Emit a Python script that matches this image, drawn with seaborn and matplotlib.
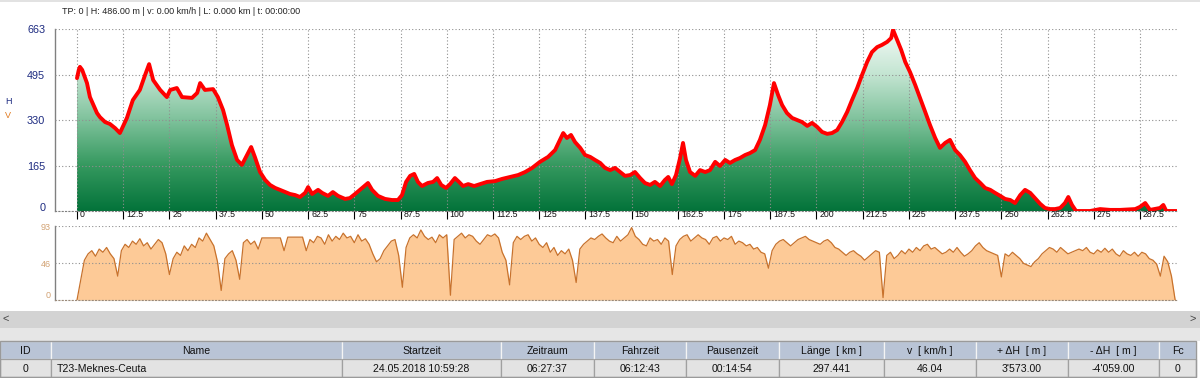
import numpy as np
import pandas as pd
import matplotlib
matplotlib.use("Agg")
import matplotlib.pyplot as plt
import seaborn as sns
from matplotlib.colors import LinearSegmentedColormap
from matplotlib.patches import Rectangle
from matplotlib.transforms import ScaledTranslation

sns.set_theme(style="white")
plt.rcParams['font.family'] = ['Liberation Sans', 'DejaVu Sans']

# ---------------- data ----------------
header_text = "TP: 0 | H: 486.00 m | v: 0.00 km/h | L: 0.000 km | t: 00:00:00"

elev_km = [0, 0.5, 0.8, 1.4, 2.7, 3.5, 5.4, 6.2, 7.6, 8.9, 10.3, 11.6, 13.5, 15.1, 17.0, 18.4,
           19.5, 20.6, 22.5, 24.3, 25.2, 27.0, 28.4, 31.1, 32.5, 33.3, 34.6, 36.8, 38.1, 39.5,
           40.6, 41.9, 43.3, 44.6, 46.0, 47.1, 48.1, 49.5, 50.9, 52.2, 53.6, 54.9, 56.3, 57.6,
           59.0, 60.3, 61.7, 62.5, 63.6, 65.2, 66.3, 67.9, 69.2, 70.6, 72.5, 73.8, 75.2, 76.5,
           78.7, 79.8, 81.4, 83.3, 85.2, 86.8, 87.9, 89.0, 90.1, 91.2, 92.2, 93.3, 94.9, 96.3,
           97.4, 98.5, 99.8, 100.9, 102.2, 103.3, 104.4, 105.8, 107.4, 109.0, 110.9, 113.1,
           115.0, 117.1, 119.3, 121.2, 123.1, 125.2, 127.4, 129.3, 130.6, 131.5, 132.5, 133.6,
           134.7, 136.1, 137.4, 138.8, 140.1, 141.5, 142.8, 144.2, 145.5, 146.9, 148.2, 149.6,
           150.9, 152.3, 153.6, 155.0, 156.3, 157.7, 159.0, 159.9, 160.9, 162.0, 163.1, 163.9,
           164.7, 165.8, 167.2, 168.5, 169.9, 171.2, 172.6, 173.9, 175.3, 176.6, 178.0, 179.3,
           180.7, 182.0, 183.4, 184.7, 186.1, 187.4, 188.5, 189.6, 190.7, 192.0, 193.4, 194.8,
           196.1, 197.5, 198.8, 200.2, 201.5, 202.9, 204.2, 205.6, 206.9, 208.3, 209.6, 211.0,
           212.3, 213.7, 215.0, 216.4, 217.7, 219.1, 220.2, 220.7, 221.8, 222.9, 224.0, 225.3,
           226.7, 228.0, 229.4, 230.7, 232.1, 233.4, 234.8, 236.1, 237.5, 238.8, 240.2, 241.5,
           242.9, 244.3, 245.6, 247.0, 248.3, 249.7, 251.0, 252.4, 253.7, 255.1, 256.4, 257.8,
           259.1, 260.5, 261.8, 263.2, 264.5, 265.9, 267.2, 268.1, 269.1, 270.2, 274.0, 276.7,
           279.4, 282.1, 286.2, 287.5, 288.9, 290.2, 292.9, 293.8, 294.6, 297.4]
elev_m = [484, 515, 525, 514, 466, 415, 357, 342, 324, 317, 302, 284, 339, 404, 441, 495,
          535, 477, 441, 415, 441, 448, 415, 412, 430, 466, 441, 444, 415, 368,
          313, 240, 186, 168, 204, 233, 197, 142, 113, 95, 84, 77, 69, 62,
          58, 51, 66, 87, 62, 77, 66, 55, 69, 55, 44, 47, 62, 77,
          102, 77, 55, 44, 40, 40, 58, 106, 128, 135, 106, 91, 102, 106,
          120, 95, 84, 98, 120, 106, 91, 98, 91, 98, 106, 109,
          117, 124, 131, 142, 157, 179, 197, 222, 259, 284, 266, 277,
          251, 230, 204, 197, 186, 175, 157, 149, 157, 142, 128, 131,
          142, 120, 102, 95, 106, 91, 113, 124, 98, 131, 193, 248,
          186, 142, 128, 149, 142, 149, 179, 164, 186, 175, 186, 193,
          204, 211, 222, 259, 313, 386, 466, 423, 386, 357, 339, 331,
          324, 310, 321, 306, 288, 281, 284, 295, 324, 361, 404, 448,
          495, 543, 579, 597, 605, 616, 630, 660, 623, 587, 543, 506,
          459, 412, 361, 313, 266, 230, 248, 259, 222, 204, 179, 149,
          120, 102, 84, 77, 66, 55, 44, 40, 29, 58, 77, 66,
          47, 26, 11, 7, 7, 11, 29, 51, 22, 0, 0, 7,
          4, 4, 7, 15, 29, 4, 11, 22, 0, 0]

# speed read at every kilometre of the track (km 0 .. 297)
speed_km = list(range(0, 298))
speed_kmh = [0, 25, 50, 58, 62, 55, 64, 60, 66, 58,
             52, 30, 62, 70, 66, 74, 70, 77, 68, 72,
             64, 70, 76, 72, 58, 32, 52, 60, 56, 68,
             62, 70, 66, 78, 74, 84, 76, 68, 48, 12,
             52, 58, 62, 50, 26, 72, 76, 70, 74, 64,
             78, 78, 78, 78, 78, 78, 62, 79, 79, 79,
             79, 79, 62, 76, 72, 80, 78, 70, 82, 74,
             80, 76, 84, 78, 80, 72, 82, 74, 77, 70,
             58, 48, 52, 62, 68, 74, 76, 56, 16, 66,
             78, 82, 78, 88, 80, 76, 79, 72, 82, 78,
             82, 6, 76, 80, 84, 78, 82, 80, 74, 70,
             76, 82, 80, 83, 78, 60, 50, 19, 72, 80,
             76, 80, 82, 74, 78, 70, 66, 72, 60, 66,
             56, 62, 58, 64, 50, 22, 64, 70, 74, 78,
             76, 80, 83, 78, 74, 72, 80, 74, 78, 82,
             91, 80, 76, 70, 68, 78, 74, 76, 70, 78,
             74, 32, 68, 76, 80, 82, 74, 78, 82, 78,
             76, 70, 78, 80, 74, 78, 76, 80, 70, 74,
             72, 68, 70, 64, 66, 60, 58, 40, 62, 70,
             74, 76, 72, 68, 72, 76, 78, 80, 76, 74,
             72, 70, 74, 76, 72, 66, 64, 60, 56, 60,
             62, 58, 55, 50, 54, 58, 62, 60, 3, 56,
             60, 52, 56, 62, 58, 64, 60, 66, 62, 68,
             70, 64, 66, 62, 58, 60, 64, 60, 66, 60,
             55, 58, 62, 68, 72, 66, 62, 60, 58, 56,
             29, 58, 55, 60, 56, 52, 46, 44, 42, 48,
             52, 58, 62, 66, 64, 60, 66, 62, 58, 60,
             62, 64, 62, 66, 60, 58, 63, 60, 65, 60,
             64, 58, 55, 62, 58, 56, 60, 55, 60, 58,
             52, 50, 45, 30, 55, 48, 30, 0]

x_ticks = [0, 12.5, 25, 37.5, 50, 62.5, 75, 87.5, 100, 112.5, 125, 137.5, 150, 162.5,
           175, 187.5, 200, 212.5, 225, 237.5, 250, 262.5, 275, 287.5]
h_ticks = [0, 165, 330, 495, 663]
v_ticks = [0, 46, 93]

table_columns = ["ID", "Name", "Startzeit", "Zeitraum", "Fahrzeit", "Pausenzeit",
                 "Länge  [ km ]", "v  [ km/h ]", "+ ΔH  [ m ]", "- ΔH  [ m ]", "Fc"]
table_row = ["0", "T23-Meknes-Ceuta", "24.05.2018 10:59:28", "06:27:37", "06:12:43",
             "00:14:54", "297.441", "46.04", "3'573.00", "-4'059.00", "0"]
col_edges = [0, 51, 342, 501, 594, 686, 779, 884, 976, 1068, 1159, 1196]

# ---------------- figure ----------------
W, H = 1200, 378
fig = plt.figure(figsize=(W / 100, H / 100), dpi=100)
fig.patch.set_facecolor('white')


def px_axes(x0, y0, x1, y1):
    return fig.add_axes([x0 / W, 1 - y1 / H, (x1 - x0) / W, (y1 - y0) / H])


bg = px_axes(0, 0, W, H)
bg.set_xlim(0, W)
bg.set_ylim(H, 0)
bg.axis('off')
bg.set_zorder(0)

xmin, xmax = -5.95, 297.5
grid_ls = (0, (1, 2))
grid_col = '#8f8f8f'

# ---- elevation panel ----
ax = px_axes(55, 29, 1177, 211)
ax.set_zorder(1)
ax.patch.set_alpha(0)
elev_df = pd.DataFrame({'km': elev_km, 'm': elev_m})
poly = ax.fill_between(elev_df['km'], elev_df['m'], 0, facecolor='none', edgecolor='none')
grad = np.linspace(0, 1, 256).reshape(-1, 1)
cmap = LinearSegmentedColormap.from_list(
    'elev', ['#03733a', '#35995f', '#7fc29c', '#c4e5d2', '#f5fbf8'])
im = ax.imshow(grad, extent=[xmin, xmax, 0, 663], origin='lower', aspect='auto',
               cmap=cmap, zorder=1, interpolation='bilinear')
im.set_clip_path(poly.get_paths()[0], transform=ax.transData)
sns.lineplot(data=elev_df, x='km', y='m', ax=ax, color='#ff0000', linewidth=2.8,
             sort=False, estimator=None, zorder=4)
ax.set_xlim(xmin, xmax)
ax.set_ylim(0, 663)
ax.set_xlabel('')
ax.set_ylabel('')
ax.set_axisbelow(False)
ax.grid(True, color=grid_col, linestyle=grid_ls, linewidth=0.8)
ax.set_xticks(x_ticks)
ax.set_xticklabels([f"{t:g}" for t in x_ticks], fontsize=6.3, ha='left', color='#111111')
ax.tick_params(axis='x', direction='out', length=5.8, width=0.8, color='black', pad=0,
               bottom=True)
ax.set_yticks(h_ticks)
ax.set_yticklabels([str(t) for t in h_ticks], fontsize=7.8, color='#1c2a80')
ax.tick_params(axis='y', length=0, pad=7, left=True)
for side in ['top', 'right']:
    ax.spines[side].set_visible(False)
ax.spines['left'].set_color('#808080')
ax.spines['left'].set_linewidth(1)
ax.spines['bottom'].set_color('#808080')
ax.spines['bottom'].set_linestyle(grid_ls)
ax.spines['bottom'].set_linewidth(0.8)
off = ScaledTranslation(3 / 100, 9 / 100, fig.dpi_scale_trans)
for lab in ax.get_xticklabels():
    lab.set_transform(lab.get_transform() + off)
off0 = ScaledTranslation(0, 4 / 100, fig.dpi_scale_trans)
ylabs = ax.get_yticklabels()
ylabs[0].set_transform(ylabs[0].get_transform() + off0)

# ---- speed panel ----
ax2 = px_axes(55, 226, 1177, 300)
ax2.set_zorder(1)
ax2.patch.set_alpha(0)
sp_df = pd.DataFrame({'km': speed_km, 'v': speed_kmh})
ax2.fill_between(sp_df['km'], sp_df['v'], 0, color='#fdca97', linewidth=0, zorder=1)
sns.lineplot(data=sp_df, x='km', y='v', ax=ax2, color='#c8722c', linewidth=0.9,
             sort=False, estimator=None, zorder=4)
ax2.set_xlim(xmin, xmax)
ax2.set_ylim(0, 93)
ax2.set_xlabel('')
ax2.set_ylabel('')
ax2.set_axisbelow(False)
ax2.grid(True, axis='y', color=grid_col, linestyle=grid_ls, linewidth=0.8)
ax2.set_xticks([])
ax2.set_yticks(v_ticks)
ax2.set_yticklabels([str(t) for t in v_ticks], fontsize=6.5, color='#d2a273')
ax2.tick_params(axis='y', length=0, pad=3, left=True)
for side in ['top', 'right']:
    ax2.spines[side].set_visible(False)
ax2.spines['left'].set_color('#808080')
ax2.spines['left'].set_linewidth(1)
ax2.spines['bottom'].set_color('#9a8a7a')
ax2.spines['bottom'].set_linestyle(grid_ls)
ax2.spines['bottom'].set_linewidth(0.8)
vlabs = ax2.get_yticklabels()
off1 = ScaledTranslation(0, 6 / 100, fig.dpi_scale_trans)
vlabs[0].set_transform(vlabs[0].get_transform() + off1)

# ---- texts around chart ----
bg.add_patch(Rectangle((0, 0), W, 2, facecolor='#e2e2e2', edgecolor='none'))
bg.text(62, 12, header_text, fontsize=6.5, color='#222222', ha='left', va='center')
bg.text(8, 101, 'H', fontsize=6.5, color='#1c2a80', ha='center', va='center')
bg.text(8, 116, 'V', fontsize=6.5, color='#e07a20', ha='center', va='center')

# ---- scrollbar ----
bg.add_patch(Rectangle((0, 311), W, 17, facecolor='#d3d3d3', edgecolor='none'))
bg.text(6, 319, '<', fontsize=8, color='#444444', ha='center', va='center')
bg.text(1193, 319, '>', fontsize=8, color='#444444', ha='center', va='center')
bg.add_patch(Rectangle((0, 328), W, 13, facecolor='#e6e6e6', edgecolor='none'))

# ---- table ----
top, mid, bot = 341, 359, 377
for i, (c0, c1) in enumerate(zip(col_edges[:-1], col_edges[1:])):
    bg.add_patch(Rectangle((c0, top), c1 - c0, mid - top, facecolor='#b9c4d6',
                           edgecolor='#f4f4f4', linewidth=0.9))
    bg.add_patch(Rectangle((c0, mid), c1 - c0, bot - mid, facecolor='#e3e3e3',
                           edgecolor='#a0a0a0', linewidth=0.9))
    bg.text((c0 + c1) / 2, (top + mid) / 2 + 0.5, table_columns[i], fontsize=7.6,
            ha='center', va='center', color='#111111')
    if i == 1:
        bg.text(c0 + 6, (mid + bot) / 2 + 0.5, table_row[i], fontsize=7.6,
                ha='left', va='center', color='#111111')
    else:
        bg.text((c0 + c1) / 2, (mid + bot) / 2 + 0.5, table_row[i], fontsize=7.6,
                ha='center', va='center', color='#111111')
bg.add_patch(Rectangle((0, top), col_edges[-1], bot - top, facecolor='none',
                       edgecolor='#9a9a9a', linewidth=1))

fig.savefig('out.png', dpi=100)
